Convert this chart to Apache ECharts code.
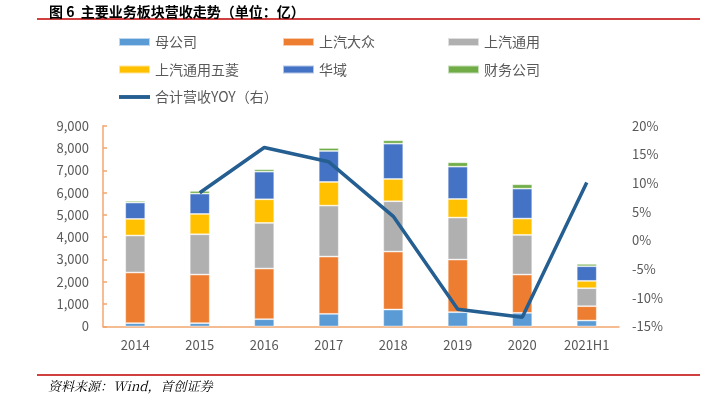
<!DOCTYPE html>
<html><head><meta charset="utf-8">
<script src="https://cdn.jsdelivr.net/npm/echarts@6/dist/echarts.min.js"></script>
<style>html,body{margin:0;padding:0;background:#fff}#c{width:707px;height:405px}</style>
</head><body><div id="c"></div>
<script>
const categories = ['2014','2015','2016','2017','2018','2019','2020','2021H1'];
const parentCo = [150, 150, 328, 567, 761, 642, 612, 269];
const saicVW = [2270, 2178, 2269, 2567, 2597, 2358, 1716, 641];
const saicGM = [1657, 1806, 2045, 2284, 2254, 1881, 1776, 806];
const sgmw = [746, 911, 1059, 1060, 1000, 835, 732, 329];
const huayu = [731, 910, 1239, 1388, 1582, 1448, 1343, 656];
const finance = [75, 120, 105, 134, 149, 194, 194, 105];
const yoy = [null, 8.3, 16.2, 13.7, 4.2, -12.0, -13.4, 10.1];
const leftTicks = [0, 9000, 1000];
const rightTicks = [-15, 20, 5];

const chart = echarts.init(document.getElementById('c'), null, {renderer: 'canvas'});
const txt = '#595959';
const axisOrange = '#f4a66e';
const font = '"Noto Sans CJK SC", "Noto Sans", sans-serif';
function bar(name, data, color) {
  return {name, type: 'bar', stack: 'a', data, barWidth: 20,
    itemStyle: {color, borderColor: 'rgba(255,255,255,0.6)', borderWidth: 0.8}};
}
const legendBase = {orient: 'vertical', padding: 0, itemWidth: 31, itemHeight: 8, itemGap: 13.5,
  textStyle: {color: txt, fontSize: 14, fontFamily: font, lineHeight: 14}, icon: 'rect'};
chart.setOption({
  animation: false,
  title: {text: '图 6  主要业务板块营收走势（单位：亿）', left: 44, top: 0,
    textStyle: {fontSize: 14, fontWeight: 'bold', color: '#000', fontFamily: font}},
  graphic: [
    {type: 'line', shape: {x1: 37, y1: 19, x2: 700, y2: 19}, style: {stroke: '#c00000', lineWidth: 1.5}},
    {type: 'line', shape: {x1: 37, y1: 375, x2: 700, y2: 375}, style: {stroke: '#c00000', lineWidth: 1.5}},
    {type: 'text', left: 48, top: 380, style: {text: '资料来源：Wind，首创证券', fontSize: 13, fontStyle: 'italic', fill: '#000', fontFamily: '"Noto Serif CJK SC", "DejaVu Serif", serif'}}
  ],
  legend: [
    Object.assign({}, legendBase, {left: 118, top: 35, data: ['母公司', '上汽通用五菱', {name: '合计营收YOY（右）', icon: 'path://M0,0 L32,0 L32,4 L0,4 Z', itemStyle: {color: '#255e91'}}]}),
    Object.assign({}, legendBase, {left: 282, top: 35, data: ['上汽大众', '华域']}),
    Object.assign({}, legendBase, {left: 447, top: 35, data: ['上汽通用', '财务公司']})
  ],
  grid: {left: 103, right: 88, top: 125.67, bottom: 78.5, containLabel: false},
  xAxis: {type: 'category', data: categories,
    axisLine: {lineStyle: {color: axisOrange, width: 1.5}}, axisTick: {show: false},
    axisLabel: {color: txt, fontSize: 13, fontFamily: font, margin: 12}},
  yAxis: [
    {type: 'value', min: leftTicks[0], max: leftTicks[1], interval: leftTicks[2],
      axisLine: {show: true, lineStyle: {color: axisOrange, width: 1.5}},
      axisTick: {show: true, inside: true, length: 4, lineStyle: {color: axisOrange, width: 1.5}},
      splitLine: {show: false},
      axisLabel: {color: txt, fontSize: 13, fontFamily: font, margin: 14,
        formatter: v => v.toLocaleString('en-US')}},
    {type: 'value', min: rightTicks[0], max: rightTicks[1], interval: rightTicks[2],
      axisLine: {show: false}, axisTick: {show: false}, splitLine: {show: false},
      axisLabel: {color: txt, fontSize: 13, fontFamily: font, margin: 13, formatter: v => v + '%'}}
  ],
  series: [
    bar('母公司', parentCo, '#5b9bd5'),
    bar('上汽大众', saicVW, '#ed7d31'),
    bar('上汽通用', saicGM, '#b0b0b0'),
    bar('上汽通用五菱', sgmw, '#ffc000'),
    bar('华域', huayu, '#4472c4'),
    bar('财务公司', finance, '#70ad47'),
    {name: '合计营收YOY（右）', type: 'line', yAxisIndex: 1, data: yoy, symbol: 'none',
      lineStyle: {color: '#255e91', width: 3.5}, itemStyle: {color: '#255e91'}, z: 5}
  ]
});
</script></body></html>
